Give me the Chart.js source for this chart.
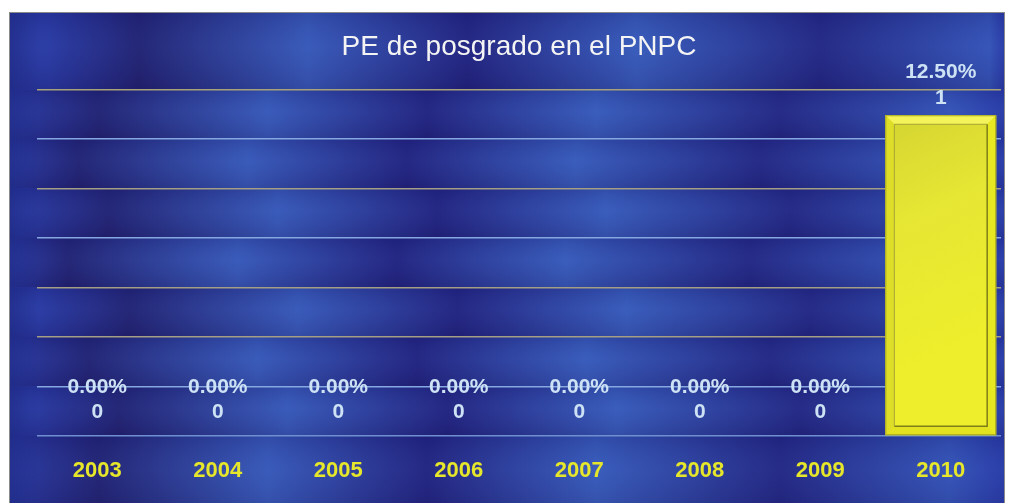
<!DOCTYPE html>
<html>
<head>
<meta charset="utf-8">
<script src="https://cdn.jsdelivr.net/npm/chart.js@4/dist/chart.umd.min.js"></script>
<style>
  html, body { margin: 0; padding: 0; background: #fff; }
  canvas { display: block; }
</style>
</head>
<body>
<canvas id="myChart" width="1014" height="503"></canvas>
<script>
const years = ['2003', '2004', '2005', '2006', '2007', '2008', '2009', '2010'];
const programas = [0, 0, 0, 0, 0, 0, 0, 1];
const porcentajes = ['0.00%', '0.00%', '0.00%', '0.00%', '0.00%', '0.00%', '0.00%', '12.50%'];
const yMax = 1.08;
const gridCount = 7;
const gridColors = ['#6f8fd0', '#86a8e0', '#a49e84', '#a49e84', '#86a8e0', '#a49e84', '#86a8e0', '#a8a278'];
const FONT = '"Liberation Sans", Arial, sans-serif';

// banded blue background with dark vertical smudges
const fondo = {
	id: 'fondo',
	beforeDraw(chart) {
		const ctx = chart.ctx;
		const fx = 9, fy = 12, fw = 995, fh = 500;
		ctx.save();
		ctx.fillStyle = '#ffffff';
		ctx.fillRect(0, 0, chart.width, chart.height);
		ctx.fillStyle = '#2c42ae';
		ctx.fillRect(fx, fy, fw, fh);
		const y = chart.scales.y;
		const edges = [fy];
		y.ticks.slice().reverse().forEach(t => edges.push(y.getPixelForValue(t.value)));
		edges.push(fy + fh);
		const phases = [40, 0, -20, 10, -30, 30, -10, 20, 0];
		const spots = [0.0, 0.09, 0.26, 0.42, 0.59, 0.775, 0.945, 1.0];
		const cols = ['#2a38a0', '#221f6c', '#3a5ab8', '#22207a', '#3a5cba', '#23247e', '#3654b6', '#2a3aa6'];
		for (let i = 0; i < edges.length - 1; i++) {
			const top = edges[i], bot = edges[i + 1];
			const p = phases[i % phases.length];
			const g = ctx.createLinearGradient(fx, 0, fx + fw, 0);
			spots.forEach((s, k) => {
				let pos = s + p / fw;
				pos = Math.min(1, Math.max(0, pos));
				g.addColorStop(pos, cols[k]);
			});
			ctx.fillStyle = g;
			ctx.fillRect(fx, top, fw, bot - top);
			const v = ctx.createLinearGradient(0, top, 0, bot);
			v.addColorStop(0, 'rgba(20,30,120,0.25)');
			v.addColorStop(0.45, 'rgba(60,100,200,0.12)');
			v.addColorStop(1, 'rgba(20,20,90,0.2)');
			ctx.fillStyle = v;
			ctx.fillRect(fx, top, fw, bot - top);
		}
		// darker left margin
		const lg = ctx.createLinearGradient(fx, 0, fx + 30, 0);
		lg.addColorStop(0, 'rgba(30,40,130,0.6)');
		lg.addColorStop(1, 'rgba(30,40,130,0)');
		ctx.fillStyle = lg;
		ctx.fillRect(fx, fy, 30, fh);
		ctx.strokeStyle = '#8a8a8a';
		ctx.lineWidth = 1;
		ctx.strokeRect(fx + 0.5, fy + 0.5, fw, fh + 5);
		ctx.restore();
	}
};

// bevelled yellow bars plus the two label lines
const barras = {
	id: 'barras',
	afterDatasetsDraw(chart) {
		const ctx = chart.ctx;
		const meta = chart.getDatasetMeta(0);
		ctx.save();
		meta.data.forEach((bar, i) => {
			const w = bar.width;
			const x0 = bar.x - w / 2, x1 = bar.x + w / 2;
			const top = bar.y, base = bar.base;
			const tall = base - top > 4;
			if (tall) {
				const b = 9;
				ctx.fillStyle = '#e6e61e';
				ctx.fillRect(x0, top, w, base - top);
				ctx.fillStyle = '#f4f45a';
				ctx.beginPath();
				ctx.moveTo(x0, top); ctx.lineTo(x1, top); ctx.lineTo(x1 - b, top + b); ctx.lineTo(x0 + b, top + b);
				ctx.fill();
				ctx.fillStyle = '#dede28';
				ctx.beginPath();
				ctx.moveTo(x0, top); ctx.lineTo(x0 + b, top + b); ctx.lineTo(x0 + b, base - b); ctx.lineTo(x0, base);
				ctx.fill();
				ctx.fillStyle = '#e8e822';
				ctx.beginPath();
				ctx.moveTo(x1, top); ctx.lineTo(x1 - b, top + b); ctx.lineTo(x1 - b, base - b); ctx.lineTo(x1, base);
				ctx.fill();
				ctx.fillStyle = '#e2e220';
				ctx.beginPath();
				ctx.moveTo(x0, base); ctx.lineTo(x0 + b, base - b); ctx.lineTo(x1 - b, base - b); ctx.lineTo(x1, base);
				ctx.fill();
				const g = ctx.createLinearGradient(x0 + b, top + b, x1 - b, top + 220);
				g.addColorStop(0, '#d6d632');
				g.addColorStop(0.4, '#e6e634');
				g.addColorStop(1, '#eeee2c');
				ctx.fillStyle = g;
				ctx.fillRect(x0 + b, top + b, w - 2 * b, base - top - 2 * b);
				ctx.strokeStyle = '#7e7e18';
				ctx.lineWidth = 1.5;
				ctx.beginPath();
				ctx.moveTo(x1 - b, top + b); ctx.lineTo(x1 - b, base - b); ctx.lineTo(x0 + b, base - b);
				ctx.stroke();
				ctx.strokeStyle = '#a4a438';
				ctx.lineWidth = 1;
				ctx.beginPath();
				ctx.moveTo(x0 + b, base - b); ctx.lineTo(x0 + b, top + b); ctx.lineTo(x1 - b, top + b);
				ctx.stroke();
				ctx.strokeStyle = '#a8a820';
				ctx.strokeRect(x0 + 0.5, top + 0.5, w - 1, base - top - 1);
			}
			ctx.fillStyle = '#cde2f4';
			ctx.font = 'bold 21px ' + FONT;
			ctx.textAlign = 'center';
			ctx.textBaseline = 'middle';
			const o1 = tall ? 17 : 24;
			const o2 = tall ? 43 : 49;
			ctx.fillText(String(programas[i]), bar.x, top - o1);
			ctx.fillText(porcentajes[i], bar.x, top - o2);
		});
		ctx.restore();
	}
};

const ctx = document.getElementById('myChart');
const myChart = new Chart(ctx, {
	type: 'bar',
	data: {
		labels: years,
		datasets: [
			{
				data: programas,
				backgroundColor: 'rgba(0,0,0,0)',
				borderWidth: 0,
				barPercentage: 0.92,
				categoryPercentage: 1
			}
		]
	},
	options: {
		responsive: false,
		animation: false,
		layout: {
			padding: { left: 37, right: 13, top: 0, bottom: 0 }
		},
		plugins: {
			legend: { display: false },
			tooltip: { enabled: false },
			title: {
				display: true,
				text: 'PE de posgrado en el PNPC',
				color: '#f4f4f4',
				font: { family: FONT, size: 28, weight: 'normal' },
				padding: { top: 30, bottom: 26 }
			}
		},
		scales: {
			x: {
				grid: { display: false, drawTicks: false },
				border: { display: false },
				afterFit(axis) { axis.height = 67; },
				ticks: {
					color: '#e6e62a',
					padding: 22,
					font: { family: FONT, size: 22, weight: 'bold' }
				}
			},
			y: {
				min: 0,
				max: yMax,
				afterBuildTicks(axis) {
					const t = [];
					for (let i = 0; i <= gridCount; i++) t.push({ value: i * yMax / gridCount });
					axis.ticks = t;
				},
				ticks: { display: false },
				border: { display: false },
				grid: {
					drawTicks: false,
					lineWidth: 1.6,
					color: c => gridColors[c.index] || '#86a8e0'
				}
			}
		}
	},
	plugins: [fondo, barras]
});
</script>
</body>
</html>
